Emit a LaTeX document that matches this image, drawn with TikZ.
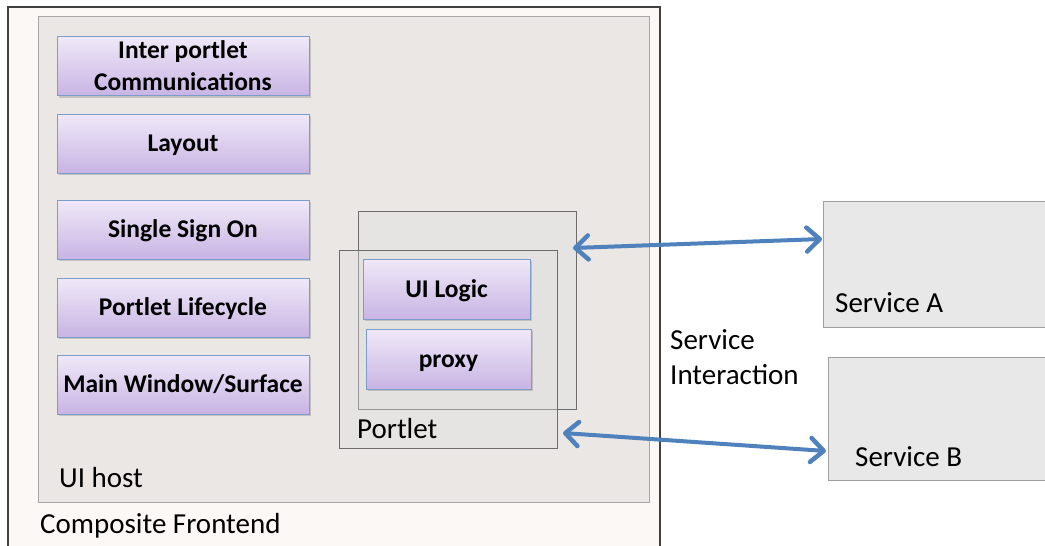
\documentclass[tikz,border=0pt]{standalone}
\usepackage{fontspec}
\setmainfont{Carlito}
\usetikzlibrary{arrows.meta,shadows}
\definecolor{outerfill}{HTML}{FCF8F5}
\definecolor{hostfill}{HTML}{EBE7E5}
\definecolor{boxtop}{HTML}{F0E9F8}
\definecolor{boxbot}{HTML}{C8B4E4}
\definecolor{boxline}{HTML}{7C9CCB}
\definecolor{svcfill}{HTML}{E8E8E8}
\definecolor{arrowblue}{HTML}{4F81BD}
\tikzset{
  pbox/.style={draw=boxline, line width=1pt, top color=boxtop, bottom color=boxbot,
    drop shadow={shadow xshift=1.5pt, shadow yshift=-2pt, opacity=0.35},
    font=\fontsize{25.5}{32}\selectfont\bfseries, align=center, inner sep=0pt},
  onebox/.style={pbox, text height=16pt, text depth=0pt},
  lbl/.style={font=\fontsize{29}{35}\selectfont, anchor=base west, inner sep=0pt},
  svc/.style={draw=gray!75, line width=1pt, fill=svcfill},
  portbox/.style={draw=gray!85!black, line width=0.8pt, fill=gray!25, fill opacity=0.35},
  link/.style={draw=arrowblue, line width=4pt, {Straight Barb[length=13pt,width=24pt,line width=4.5pt,round]}-{Straight Barb[length=13pt,width=24pt,line width=4.5pt,round]}}
}
\begin{document}
\begin{tikzpicture}[x=1pt,y=-1pt]
\useasboundingbox (0,0) rectangle (1045,546);
\fill[white] (0,0) rectangle (1045,546);
\begin{scope}
\clip (0,0) rectangle (1045,546);
% outer composite frontend
\draw[fill=outerfill, line width=1.2pt, draw=black!75] (8,7) rectangle (660,560);
\end{scope}
% UI host
\draw[fill=hostfill, line width=1pt, draw=gray!70] (38,16) rectangle (649,502);
% left boxes
\node[pbox, minimum width=252pt, minimum height=59pt] (ipc) at (183,66) {Inter portlet\\Communications};
\node[onebox, minimum width=252pt, minimum height=59pt] (layout) at (183,143.5) {Layout};
\node[onebox, minimum width=252pt, minimum height=59pt] (sso) at (183,229.5) {Single Sign On};
\node[onebox, minimum width=252pt, minimum height=59pt] (life) at (183,307.5) {Portlet Lifecycle};
\node[onebox, minimum width=252pt, minimum height=59pt] (main) at (183,384.5) {Main Window/Surface};
% portlet boxes
\draw[portbox] (358,211) rectangle (576,409);
\draw[portbox] (339,250) rectangle (557,448);
\node[onebox, minimum width=167pt, minimum height=60pt] (uil) at (446.5,289) {UI Logic};
\node[onebox, minimum width=165pt, minimum height=60pt] (proxy) at (448.5,359) {proxy};
% services
\begin{scope}
\clip (0,0) rectangle (1045,546);
\draw[svc] (823,201) rectangle (1060,327);
\draw[svc] (828,357) rectangle (1060,480);
\end{scope}
% labels
\node[lbl] (cf) at (40,533) {Composite Frontend};
\node[lbl] (uih) at (59,487) {UI host};
\node[lbl] (port) at (357,438) {Portlet};
\node[lbl] (sa) at (835,312) {Service A};
\node[lbl] (sb) at (855,466) {Service B};
\node[lbl] (si1) at (670,349) {Service};
\node[lbl] (si2) at (670,384) {Interaction};
% arrows
\coordinate (pa) at (573,248);
\coordinate (saw) at (822,239);
\coordinate (pb) at (563,433);
\coordinate (sbw) at (826,451);
\draw[link] (pa) -- (saw);
\draw[link] (pb) -- (sbw);
\end{tikzpicture}
\end{document}
